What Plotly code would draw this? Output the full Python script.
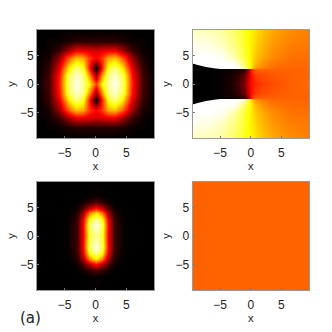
import plotly.graph_objects as go

TICKS = [-5, 0, 5]
HOT = [[0, "#000000"], [0.375, "#ff0000"], [0.75, "#ffff00"], [1, "#ffffff"]]

# top left: intensity with two holes
tl_x = [-9.5, -7.5, -6, -4.5, -3.2, -2, -1, 0, 1, 2, 3.2, 4.5, 6, 7.5, 9.5]
tl_y = [-9.5, -7.5, -6, -4.5, -2.8, -1.5, 0, 1.5, 2.8, 4.5, 6, 7.5, 9.5]
tl_z = [
    [0, 0, 0, 0, 0, 0, 0, 0, 0, 0, 0, 0, 0, 0, 0],
    [0, .01, .02, .04, .06, .06, .06, .06, .06, .06, .06, .04, .02, .01, 0],
    [0, .02, .08, .22, .34, .34, .32, .3, .32, .34, .34, .22, .08, .02, 0],
    [0, .04, .22, .5, .66, .62, .46, .37, .46, .62, .66, .5, .22, .04, 0],
    [0, .08, .33, .7, .88, .78, .42, 0, .42, .78, .88, .7, .33, .08, 0],
    [0, .1, .4, .82, .95, .88, .6, .22, .6, .88, .95, .82, .4, .1, 0],
    [0, .11, .42, .85, .98, .9, .75, .47, .75, .9, .98, .85, .42, .11, 0],
    [0, .1, .4, .82, .95, .88, .6, .22, .6, .88, .95, .82, .4, .1, 0],
    [0, .08, .33, .7, .88, .78, .42, 0, .42, .78, .88, .7, .33, .08, 0],
    [0, .04, .22, .5, .66, .62, .46, .37, .46, .62, .66, .5, .22, .04, 0],
    [0, .02, .08, .22, .34, .34, .32, .3, .32, .34, .34, .22, .08, .02, 0],
    [0, .01, .02, .04, .06, .06, .06, .06, .06, .06, .06, .04, .02, .01, 0],
    [0, 0, 0, 0, 0, 0, 0, 0, 0, 0, 0, 0, 0, 0, 0],
]

# top right: phase, two close rows give the jump along the band
tr_x = [-9.5, -7, -5, -3, -2, -1, -.3, 0, .5, 1, 2, 3.5, 5, 7, 9.5]
tr_y = [-9.5, -7, -5, -3.5, -2.65, -2.63, -1.5, 0, 1.5, 2.63, 2.65, 3.5, 5, 7, 9.5]
tr_z = [
    [.94, .93, .91, .86, .82, .78, .75, .74, .72, .70, .66, .62, .6, .58, .56],
    [.98, .97, .94, .88, .84, .79, .75, .73, .71, .68, .64, .6, .58, .56, .55],
    [1, 1, .99, .93, .87, .8, .75, .73, .69, .66, .62, .58, .56, .54, .54],
    [1, 1, 1, 1, .95, .85, .77, .73, .67, .63, .58, .55, .54, .53, .53],
    [1, 1, 1, 1, 1, .95, .82, .72, .62, .58, .55, .53, .52, .52, .52],
    [0, 0, .01, .02, .03, .06, .2, .4, .5, .52, .52, .52, .52, .52, .52],
    [0, 0, .01, .04, .08, .16, .3, .38, .44, .47, .49, .5, .51, .52, .52],
    [0, 0, .01, .05, .1, .2, .33, .38, .42, .44, .47, .49, .5, .52, .53],
    [0, 0, .01, .04, .08, .16, .3, .38, .44, .47, .49, .5, .51, .52, .52],
    [0, 0, .01, .02, .03, .06, .2, .4, .5, .52, .52, .52, .52, .52, .52],
    [1, 1, 1, 1, 1, .95, .82, .72, .62, .58, .55, .53, .52, .52, .52],
    [1, 1, 1, 1, .95, .85, .77, .73, .67, .63, .58, .55, .54, .53, .53],
    [1, 1, .99, .93, .87, .8, .75, .73, .69, .66, .62, .58, .56, .54, .54],
    [.98, .97, .94, .88, .84, .79, .75, .73, .71, .68, .64, .6, .58, .56, .55],
    [.94, .93, .91, .86, .82, .78, .75, .74, .72, .70, .66, .62, .6, .58, .56],
]

# black wedge on the left end of the band
wedge_x = [-9.5, -8.5, -7.3, -6, -5, -5, -6, -7.3, -8.5, -9.5]
wedge_y = [3.6, 3.3, 3.0, 2.75, 2.64, -2.64, -2.75, -3.0, -3.3, -3.6]

# bottom left: elongated blob
bl_x = [-9.5, -6, -4.5, -3, -2, -1, 0, 1, 2, 3, 4.5, 6, 9.5]
bl_y = [-9.5, -7, -6, -5, -4, -3, -2, -1, 0, 1, 2, 3, 4, 5, 6, 7, 9.5]
bl_z = [
    [0, 0, 0, 0, 0, 0, 0, 0, 0, 0, 0, 0, 0],
    [0, 0, 0, 0, 0, .01, .02, .01, 0, 0, 0, 0, 0],
    [0, 0, 0, 0, .03, .07, .12, .07, .03, 0, 0, 0, 0],
    [0, 0, 0, .02, .12, .27, .4, .27, .12, .02, 0, 0, 0],
    [0, 0, 0, .05, .24, .56, .72, .56, .24, .05, 0, 0, 0],
    [0, 0, .01, .08, .34, .76, .9, .76, .34, .08, .01, 0, 0],
    [0, 0, .01, .09, .38, .84, .98, .84, .38, .09, .01, 0, 0],
    [0, 0, .01, .09, .37, .82, .94, .82, .37, .09, .01, 0, 0],
    [0, 0, .01, .09, .36, .8, .9, .8, .36, .09, .01, 0, 0],
    [0, 0, .01, .09, .37, .82, .94, .82, .37, .09, .01, 0, 0],
    [0, 0, .01, .09, .38, .84, .98, .84, .38, .09, .01, 0, 0],
    [0, 0, .01, .08, .34, .76, .9, .76, .34, .08, .01, 0, 0],
    [0, 0, 0, .05, .24, .56, .72, .56, .24, .05, 0, 0, 0],
    [0, 0, 0, .02, .12, .27, .4, .27, .12, .02, 0, 0, 0],
    [0, 0, 0, 0, .03, .07, .12, .07, .03, 0, 0, 0, 0],
    [0, 0, 0, 0, 0, .01, .02, .01, 0, 0, 0, 0, 0],
    [0, 0, 0, 0, 0, 0, 0, 0, 0, 0, 0, 0, 0],
]

# bottom right: flat phase
br_x = [-9.5, 9.5]
br_y = [-9.5, 9.5]
br_z = [[.52, .52], [.52, .52]]


def heat(x, y, z, n):
    return go.Heatmap(x=x, y=y, z=z, xaxis=f"x{n}", yaxis=f"y{n}", zmin=0, zmax=1,
                      colorscale=HOT, zsmooth="best", showscale=False, hoverinfo="skip")


fig = go.Figure()
fig.add_trace(heat(tl_x, tl_y, tl_z, 1))
fig.add_trace(heat(tr_x, tr_y, tr_z, 2))
fig.add_trace(go.Scatter(x=wedge_x, y=wedge_y, xaxis="x2", yaxis="y2", mode="none",
                         fill="toself", fillcolor="#000000", hoverinfo="skip"))
fig.add_trace(heat(bl_x, bl_y, bl_z, 3))
fig.add_trace(heat(br_x, br_y, br_z, 4))


def xax(a, b, anchor):
    return dict(domain=[a / 332, b / 332], range=[-9.5, 9.5], anchor=anchor, tickvals=TICKS,
                ticktext=["\u22125", "0", "5"], ticks="inside", ticklen=2, tickcolor="#777777",
                showgrid=False, zeroline=False, showline=True, mirror=True,
                linecolor="#999999", linewidth=1, tickfont=dict(size=12, color="#222222"),
                ticklabelstandoff=4,
                title=dict(text="x", font=dict(size=11, color="#222222"), standoff=0))


def yax(a, b, anchor):
    return dict(domain=[1 - b / 332, 1 - a / 332], range=[-9.5, 9.5], anchor=anchor, tickvals=TICKS,
                ticktext=["\u22125", "0", "5"], ticks="inside", ticklen=2, tickcolor="#777777",
                showgrid=False, zeroline=False, showline=True, mirror=True,
                linecolor="#999999", linewidth=1, tickfont=dict(size=12, color="#222222"),
                title=dict(text="y", font=dict(size=11, color="#222222"), standoff=2))


fig.update_layout(
    width=332, height=332, margin=dict(l=0, r=0, t=0, b=0), showlegend=False,
    paper_bgcolor="#ffffff", plot_bgcolor="#ffffff",
    font=dict(family="Liberation Sans"),
    xaxis=xax(37, 154, "y"), yaxis=yax(30, 138, "x"),
    xaxis2=xax(192.5, 309, "y2"), yaxis2=yax(30, 138, "x2"),
    xaxis3=xax(37, 154, "y3"), yaxis3=yax(182, 290, "x3"),
    xaxis4=xax(192.5, 309, "y4"), yaxis4=yax(182, 290, "x4"),
    annotations=[dict(text="(a)", x=18 / 332, y=1 - 318 / 332, xref="paper", yref="paper",
                      xanchor="left", yanchor="middle", showarrow=False,
                      font=dict(family="DejaVu Sans", size=15, color="#222222"))],
)

# page default margin would push the figure off the frame
fig.write_html("out.html", config=dict(displayModeBar=False),
               post_script="document.body.style.margin='0';document.documentElement.style.overflow='hidden';")
